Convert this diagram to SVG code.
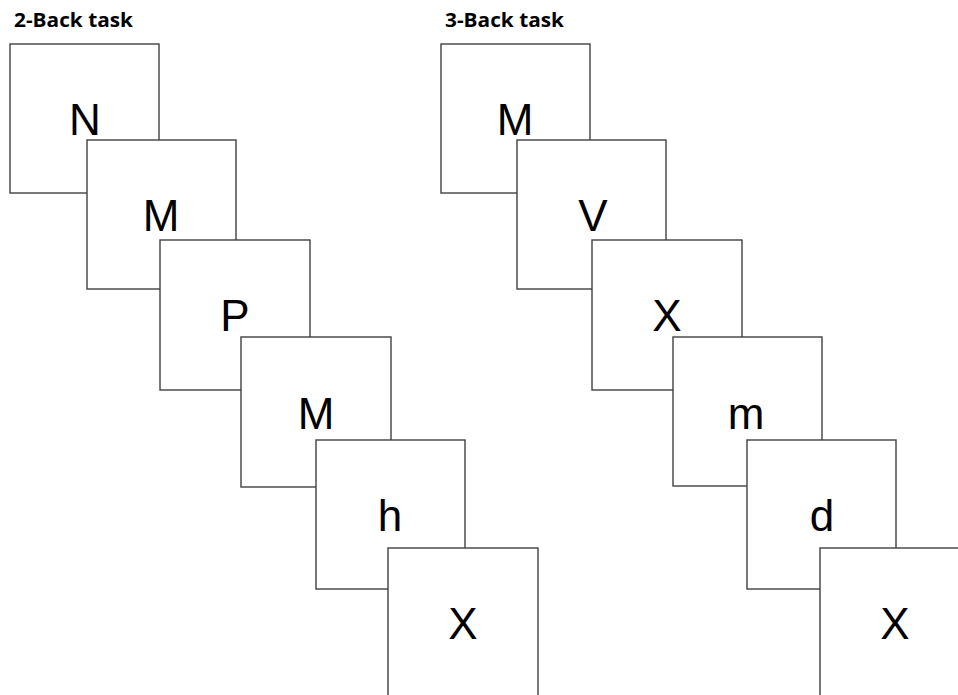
<svg xmlns="http://www.w3.org/2000/svg" width="958" height="695" viewBox="0 0 958 695">
  <style>
    .card { fill: #ffffff; stroke: #404040; stroke-width: 1.4; }
    .glyph { font-family: "Liberation Sans", Arial, sans-serif; font-size: 44px; fill: #000000; text-anchor: middle; }
    .title { font-family: "Open Sans", "Liberation Sans", Arial, sans-serif; font-size: 19px; font-weight: bold; fill: #000000; }
  </style>
  <rect width="958" height="695" fill="#ffffff"/>

  <!-- 2-Back sequence -->
  <text class="title" x="14" y="27" textLength="119" lengthAdjust="spacingAndGlyphs">2-Back task</text>
  <g id="n2-1"><rect class="card" x="10" y="44" width="149" height="149"/><text class="glyph" x="85" y="135">N</text></g>
  <g id="n2-2"><rect class="card" x="87" y="140" width="149" height="149"/><text class="glyph" x="161" y="231">M</text></g>
  <g id="n2-3"><rect class="card" x="160" y="240" width="150" height="150"/><text class="glyph" x="235" y="331">P</text></g>
  <g id="n2-4"><rect class="card" x="241" y="337" width="150" height="150"/><text class="glyph" x="316" y="429">M</text></g>
  <g id="n2-5"><rect class="card" x="316" y="440" width="149" height="149"/><text class="glyph" x="390" y="531">h</text></g>
  <g id="n2-6"><rect class="card" x="388" y="548" width="150" height="160"/><text class="glyph" x="463" y="639">X</text></g>

  <!-- 3-Back sequence -->
  <text class="title" x="445" y="27" textLength="119" lengthAdjust="spacingAndGlyphs">3-Back task</text>
  <g id="n3-1"><rect class="card" x="441" y="44" width="149" height="149"/><text class="glyph" x="515" y="135">M</text></g>
  <g id="n3-2"><rect class="card" x="517" y="140" width="149" height="149"/><text class="glyph" x="593" y="231">V</text></g>
  <g id="n3-3"><rect class="card" x="592" y="240" width="150" height="150"/><text class="glyph" x="667" y="331">X</text></g>
  <g id="n3-4"><rect class="card" x="673" y="337" width="149" height="149"/><text class="glyph" x="746" y="429">m</text></g>
  <g id="n3-5"><rect class="card" x="747" y="440" width="149" height="149"/><text class="glyph" x="822" y="531">d</text></g>
  <g id="n3-6"><rect class="card" x="820" y="548" width="160" height="160"/><text class="glyph" x="895" y="639">X</text></g>

  <g id="connectors"/>
</svg>
